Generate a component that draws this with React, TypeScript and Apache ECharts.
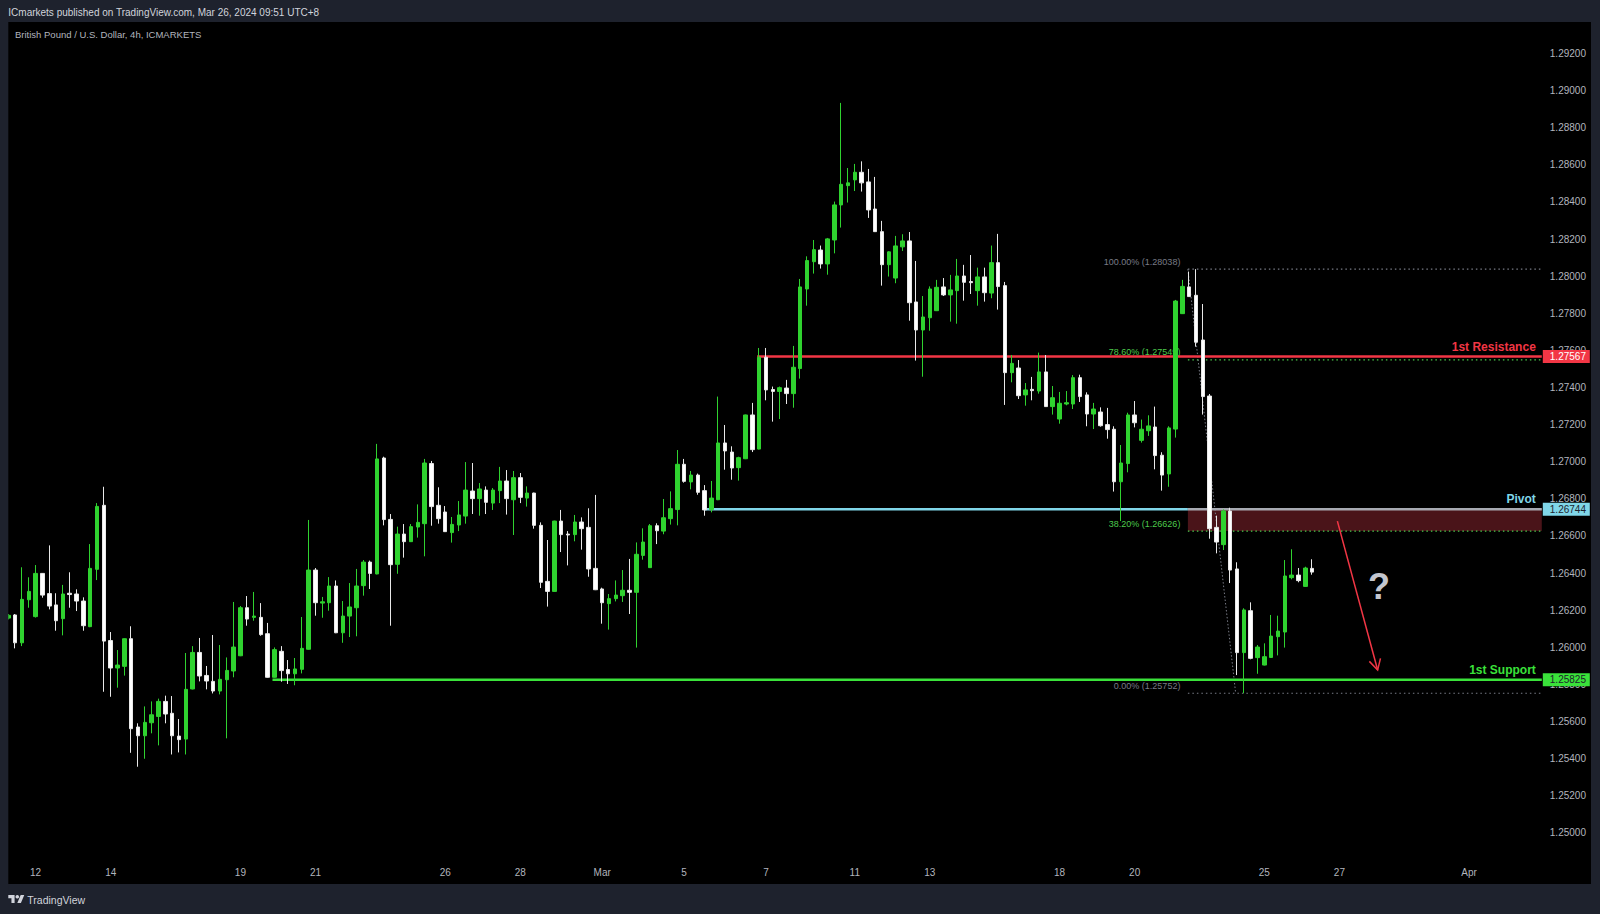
import React, { useEffect, useRef } from "react";
import * as echarts from "echarts";

// ---- candle data (GBP/USD 4h, ICMARKETS) ----
const opens = [
  1.26157,1.26174,1.26024,1.26256,1.26165,1.26398,1.26289,1.26228,1.26154,1.26291,
  1.26287,1.26249,1.26111,1.26420,1.26765,1.26036,1.25888,1.25897,1.26046,1.25570,
  1.25523,1.25593,1.25627,1.25708,1.25644,1.25521,1.25505,1.25775,1.25972,1.25848,
  1.25816,1.25764,1.25825,1.25872,1.25954,1.26213,1.26161,1.26161,1.26073,1.25838,
  1.25978,1.25880,1.25857,1.25881,1.25989,1.26416,1.26238,1.26240,1.26330,1.26078,
  1.26168,1.26213,1.26332,1.26459,1.26395,1.27020,1.26689,1.26447,1.26610,1.26569,
  1.26648,1.26666,1.26990,1.26765,1.26729,1.26618,1.26659,1.26707,1.26842,1.26801,
  1.26847,1.26777,1.26844,1.26896,1.26795,1.26914,1.26804,1.26831,1.26657,1.26355,
  1.26301,1.26680,1.26610,1.26607,1.26675,1.26646,1.26425,1.26314,1.26235,1.26262,
  1.26278,1.26307,1.26296,1.26495,1.26429,1.26655,1.26626,1.26693,1.26742,1.26986,
  1.26891,1.26928,1.26844,1.26742,1.26795,1.27101,1.27052,1.26968,1.27016,1.27252,
  1.27068,1.27563,1.27389,1.27379,1.27397,1.27367,1.27502,1.27931,1.28078,1.28141,
  1.28066,1.28195,1.28384,1.28488,1.28519,1.28560,1.28508,1.28362,1.28240,1.28062,
  1.27990,1.28158,1.28190,1.27861,1.27710,1.27776,1.27814,1.27942,1.27899,1.27922,
  1.28001,1.27971,1.27922,1.27996,1.27909,1.28073,1.27949,1.27480,1.27505,1.27360,
  1.27390,1.27381,1.27484,1.27297,1.27230,1.27311,1.27311,1.27453,1.27360,1.27257,
  1.27268,1.27200,1.27175,1.26892,1.26990,1.27252,1.27115,1.27167,1.27187,1.27035,
  1.26934,1.27176,1.27798,1.27942,1.27897,1.27656,1.27354,1.26646,1.26553,1.26734,
  1.26422,1.25971,1.26197,1.25944,1.25904,1.25945,1.26057,1.26082,1.26375,1.26389,
  1.26328,1.26425,
];
const highs = [
  1.26179,1.26179,1.26431,1.26377,1.26443,1.26400,1.26549,1.26291,1.26336,1.26404,
  1.26312,1.26269,1.26556,1.26777,1.26865,1.26082,1.25985,1.26048,1.26113,1.25590,
  1.25681,1.25708,1.25723,1.25739,1.25737,1.25613,1.25969,1.26006,1.26050,1.25899,
  1.26066,1.26012,1.25945,1.26244,1.26222,1.26276,1.26298,1.26238,1.26131,1.25999,
  1.26006,1.25931,1.25942,1.26163,1.26686,1.26427,1.26271,1.26378,1.26360,1.26249,
  1.26346,1.26422,1.26470,1.26467,1.27096,1.27027,1.26718,1.26650,1.26664,1.26664,
  1.26770,1.27015,1.27004,1.26862,1.26761,1.26702,1.26788,1.26998,1.26993,1.26885,
  1.26867,1.26858,1.26972,1.26955,1.26950,1.26939,1.26867,1.26833,1.26673,1.26578,
  1.26682,1.26740,1.26626,1.26713,1.26700,1.26749,1.26821,1.26321,1.26287,1.26360,
  1.26416,1.26476,1.26565,1.26641,1.26664,1.26668,1.26799,1.26840,1.27063,1.27015,
  1.26950,1.26936,1.26874,1.26896,1.27351,1.27198,1.27083,1.27027,1.27254,1.27317,
  1.27613,1.27613,1.27405,1.27405,1.27441,1.27624,1.27985,1.28107,1.28195,1.28165,
  1.28206,1.28402,1.28934,1.28583,1.28605,1.28619,1.28578,1.28535,1.28298,1.28134,
  1.28217,1.28226,1.28238,1.28082,1.27893,1.27945,1.27980,1.27990,1.28007,1.28093,
  1.28061,1.28114,1.28046,1.28046,1.28165,1.28228,1.27969,1.27575,1.27548,1.27424,
  1.27457,1.27588,1.27575,1.27408,1.27376,1.27381,1.27467,1.27469,1.27374,1.27317,
  1.27293,1.27290,1.27191,1.27090,1.27264,1.27327,1.27227,1.27250,1.27297,1.27051,
  1.27191,1.27872,1.27980,1.28025,1.28038,1.27850,1.27365,1.26709,1.26743,1.26752,
  1.26458,1.26210,1.26242,1.26012,1.26021,1.26174,1.26170,1.26470,1.26528,1.26427,
  1.26434,1.26474,
];
const lows = [
  1.26150,1.25994,1.26006,1.26213,1.26160,1.26267,1.26204,1.26089,1.26064,1.26213,
  1.26195,1.26089,1.26108,1.26362,1.25760,1.25733,1.25782,1.25847,1.25431,1.25356,
  1.25399,1.25536,1.25471,1.25590,1.25422,1.25433,1.25422,1.25773,1.25816,1.25773,
  1.25751,1.25746,1.25509,1.25838,1.25952,1.26116,1.26143,1.26062,1.25836,1.25836,
  1.25814,1.25802,1.25795,1.25859,1.25987,1.26170,1.26159,1.26197,1.26076,1.26024,
  1.26055,1.26059,1.26278,1.26314,1.26393,1.26657,1.26116,1.26396,1.26483,1.26567,
  1.26591,1.26490,1.26655,1.26666,1.26621,1.26564,1.26626,1.26666,1.26718,1.26709,
  1.26718,1.26740,1.26777,1.26715,1.26605,1.26777,1.26758,1.26639,1.26319,1.26219,
  1.26299,1.26513,1.26441,1.26571,1.26526,1.26380,1.26308,1.26127,1.26095,1.26247,
  1.26244,1.26179,1.25998,1.26472,1.26427,1.26556,1.26609,1.26661,1.26657,1.26887,
  1.26851,1.26822,1.26709,1.26727,1.26793,1.26957,1.26903,1.26898,1.27014,1.27052,
  1.27066,1.27331,1.27216,1.27230,1.27311,1.27291,1.27448,1.27841,1.28014,1.28041,
  1.28008,1.28123,1.28262,1.28397,1.28459,1.28456,1.28314,1.28238,1.27949,1.27998,
  1.27962,1.28136,1.27760,1.27545,1.27458,1.27706,1.27812,1.27893,1.27755,1.27744,
  1.27868,1.27904,1.27841,1.27863,1.27881,1.27820,1.27306,1.27428,1.27338,1.27302,
  1.27331,1.27367,1.27295,1.27254,1.27205,1.27304,1.27284,1.27322,1.27191,1.27176,
  1.27189,1.27124,1.26839,1.26680,1.26943,1.27185,1.27103,1.27139,1.26959,1.26844,
  1.26865,1.27130,1.27796,1.27888,1.27620,1.27254,1.26585,1.26506,1.26524,1.26346,
  1.25850,1.25752,1.25935,1.25857,1.25902,1.25943,1.25956,1.25998,1.26366,1.26350,
  1.26326,1.26391,
];
const closes = [
  1.26172,1.26024,1.26258,1.26301,1.26398,1.26281,1.26222,1.26143,1.26287,1.26284,
  1.26249,1.26116,1.26425,1.26759,1.26033,1.25888,1.25904,1.26046,1.25561,1.25523,
  1.25595,1.25636,1.25708,1.25640,1.25523,1.25502,1.25773,1.25972,1.25845,1.25818,
  1.25764,1.25827,1.25875,1.26001,1.26213,1.26152,1.26168,1.26068,1.25838,1.25987,
  1.25874,1.25857,1.25883,1.25994,1.26416,1.26240,1.26245,1.26330,1.26078,1.26168,
  1.26217,1.26330,1.26459,1.26398,1.27015,1.26688,1.26445,1.26610,1.26569,1.26650,
  1.26673,1.26993,1.26758,1.26693,1.26623,1.26662,1.26713,1.26847,1.26801,1.26853,
  1.26781,1.26847,1.26896,1.26801,1.26914,1.26808,1.26831,1.26657,1.26350,1.26301,
  1.26680,1.26607,1.26605,1.26675,1.26639,1.26422,1.26310,1.26240,1.26262,1.26281,
  1.26307,1.26296,1.26501,1.26567,1.26655,1.26628,1.26698,1.26747,1.26986,1.26894,
  1.26928,1.26835,1.26740,1.26804,1.27101,1.27058,1.26966,1.27022,1.27252,1.27065,
  1.27563,1.27387,1.27379,1.27399,1.27367,1.27509,1.27942,1.28084,1.28143,1.28066,
  1.28201,1.28384,1.28495,1.28503,1.28560,1.28503,1.28357,1.28240,1.28062,1.28131,
  1.28163,1.28190,1.27857,1.27710,1.27780,1.27931,1.27940,1.27899,1.27926,1.28001,
  1.27967,1.27965,1.27996,1.27911,1.28073,1.27944,1.27480,1.27530,1.27356,1.27387,
  1.27383,1.27484,1.27297,1.27345,1.27315,1.27318,1.27453,1.27351,1.27257,1.27284,
  1.27194,1.27173,1.26892,1.26993,1.27252,1.27210,1.27175,1.27193,1.27033,1.26928,
  1.27182,1.27866,1.27945,1.27890,1.27644,1.27351,1.26639,1.26567,1.26734,1.26416,
  1.25971,1.26201,1.25940,1.26001,1.25949,1.26060,1.26087,1.26384,1.26389,1.26359,
  1.26427,1.26405,
];

// ---- axes ----
const SLOT_COUNT = 225; // bars + empty future space
const dayTicks: [number, string][] = [
  [4, "12"], [15, "14"], [34, "19"], [45, "21"], [64, "26"], [75, "28"],
  [87, "Mar"], [99, "5"], [111, "7"], [124, "11"], [135, "13"], [154, "18"],
  [165, "20"], [184, "25"], [195, "27"], [214, "Apr"],
];
const priceTicks = [
  1.25, 1.252, 1.254, 1.256, 1.258, 1.26, 1.262, 1.264, 1.266, 1.268, 1.27,
  1.272, 1.274, 1.276, 1.278, 1.28, 1.282, 1.284, 1.286, 1.288, 1.29, 1.292,
];
const priceMin = 1.24864;
const priceMax = 1.2937;

// ---- levels / drawings ----
const resistance = 1.27567;
const pivot = 1.26744;
const support = 1.25825;
const zoneBottom = 1.26626;
const fibLevels: { label: string; price: number; green: boolean }[] = [
  { label: "100.00% (1.28038)", price: 1.28038, green: false },
  { label: "78.60% (1.27549)", price: 1.27549, green: true },
  { label: "38.20% (1.26626)", price: 1.26626, green: true },
  { label: "0.00% (1.25752)", price: 1.25752, green: false },
];
const fibStartBar = 172.8;
const fibTrend: [number, number][] = [[172.8, 1.28038], [179.8, 1.25752]];
const resistanceStartBar = 109.7;
const pivotStartBar = 101.9;
const supportStartBar = 38.7;
const arrowPath: [number, number][] = [[194.7, 1.2668], [200.6, 1.25877]];
const questionAt: [number, number] = [200.8, 1.26325];

const PAGE_BG = "#1e222d";
const GREEN = "#2fd22f";
const FONT = '"Liberation Sans", Arial, sans-serif';

echarts.graphic.registerShape(
  "tvlogo",
  echarts.graphic.extendPath("M14 22H7V11H0V4h14v18zM28 22h-8l7.5-18h8L28 22z", {})
);

export default function App() {
  const ref = useRef<HTMLDivElement>(null);

  useEffect(() => {
    const el = ref.current!;
    const chart = echarts.init(el, null, { renderer: "svg" });
    const categories = Array.from({ length: SLOT_COUNT }, (_, i) => String(i));
    const tickMap = new Map<number, string>(dayTicks);
    const candles = opens.map((o, i) => [o, closes[i], lows[i], highs[i]]);

    chart.setOption({
      animation: false,
      backgroundColor: "transparent",
      grid: { left: 4.9, top: 22, width: 1535.9, height: 836, containLabel: false },
      xAxis: {
        type: "category",
        data: categories,
        boundaryGap: true,
        axisLine: { show: false },
        axisTick: { show: false },
        splitLine: { show: false },
        axisLabel: {
          interval: (i: number) => tickMap.has(i),
          formatter: (_v: string, i: number) => tickMap.get(i) ?? "",
          color: "#b2b5be",
          fontSize: 10,
          fontFamily: FONT,
          margin: 9,
        },
      },
      yAxis: {
        type: "value",
        position: "right",
        min: priceMin,
        max: priceMax,
        scale: true,
        splitLine: { show: false },
        axisLine: { show: false },
        axisTick: { show: false },
        axisLabel: {
          customValues: priceTicks,
          formatter: (v: number) => v.toFixed(5),
          color: "#b2b5be",
          fontSize: 10,
          fontFamily: FONT,
          margin: 9,
          align: "left",
        },
      },
      series: [
        {
          type: "candlestick",
          data: candles,
          barWidth: 4,
          z: 5,
          itemStyle: {
            color: GREEN,
            borderColor: GREEN,
            color0: "#ffffff",
            borderColor0: "#e8e8e8",
            borderWidth: 1,
          },
        },
      ],
    });

    const x0 = chart.convertToPixel({ xAxisIndex: 0 }, 0) as number;
    const x1 = chart.convertToPixel({ xAxisIndex: 0 }, 1) as number;
    const bw = x1 - x0;
    const px = (i: number) => x0 + i * bw;
    const py = (p: number) => chart.convertToPixel({ yAxisIndex: 0 }, p) as number;
    const plotRight = px(SLOT_COUNT - 1) + bw / 2 + 1;
    const fibX = px(fibStartBar);

    const txt = (
      text: string, x: number, y: number, fill: string, size: number,
      align: string, vAlign: string, weight = "normal", z = 20
    ) => ({
      type: "text", x, y, z, silent: true,
      style: {
        text, fill, fontSize: size, fontWeight: weight, fontFamily: FONT,
        align, textAlign: align, verticalAlign: vAlign, textVerticalAlign: vAlign,
      },
    });
    const hline = (xa: number, xb: number, y: number, stroke: string, w: number, dash?: number[], z = 1) => ({
      type: "line", z, silent: true,
      shape: { x1: xa, y1: y, x2: xb, y2: y },
      style: { stroke, lineWidth: w, lineDash: dash },
    });

    const els: any[] = [];
    // left strip of the page frame
    els.push({ type: "rect", z: 100, silent: true, shape: { x: 0, y: 20, width: 8.3, height: 870 }, style: { fill: PAGE_BG } });

    // header
    els.push(txt("ICmarkets published on TradingView.com, Mar 26, 2024 09:51 UTC+8", 8.3, 12.5, "#d1d4dc", 10, "left", "middle"));
    els.push(txt("British Pound / U.S. Dollar, 4h, ICMARKETS", 15, 34.5, "#b2b5be", 9.5, "left", "middle"));

    // footer logo
    els.push({ type: "tvlogo", x: 8.3, y: 893.2, scaleX: 0.45, scaleY: 0.45, z: 20, style: { fill: "#d1d4dc" } });
    els.push({ type: "circle", z: 20, shape: { cx: 8.3 + 20 * 0.45, cy: 893.2 + 8 * 0.45, r: 4 * 0.45 }, style: { fill: "#d1d4dc" } });
    els.push(txt("TradingView", 27.3, 899.5, "#d1d4dc", 10.5, "left", "middle"));

    // fib zone rectangle
    const yPivot = py(pivot);
    const yZoneB = py(zoneBottom);
    els.push({ type: "rect", z: 0, silent: true, shape: { x: fibX, y: yPivot, width: plotRight - fibX, height: yZoneB - yPivot }, style: { fill: "#4a1419" } });

    // fib levels
    fibLevels.forEach((f) => {
      const y = py(f.price);
      const c = f.green ? "#4cc94c" : "#787b86";
      els.push(hline(fibX, plotRight, y, c, 1.2, [1.5, 3]));
      els.push(txt(f.label, fibX - 7.5, y - 3, c, 9, "right", "bottom", "normal", 1));
    });
    // fib trend line
    els.push({
      type: "line", z: 1, silent: true,
      shape: { x1: px(fibTrend[0][0]), y1: py(fibTrend[0][1]), x2: px(fibTrend[1][0]), y2: py(fibTrend[1][1]) },
      style: { stroke: "#787b86", lineWidth: 1, lineDash: [1.5, 2] },
    });

    // horizontal levels
    const yRes = py(resistance);
    const ySup = py(support);
    els.push(hline(px(resistanceStartBar), plotRight, yRes, "#f23645", 2.5));
    els.push(hline(px(pivotStartBar), fibX, yPivot, "#80d6e8", 2.5));
    els.push(hline(fibX, plotRight, yPivot, "#a7aab2", 2.5));
    els.push(hline(px(supportStartBar), plotRight, ySup, "#3ae23a", 2.5));

    els.push(txt("1st Resistance", plotRight - 6, yRes - 4, "#f23645", 12, "right", "bottom", "bold"));
    els.push(txt("Pivot", plotRight - 6, yPivot - 4, "#80d6e8", 12, "right", "bottom", "bold"));
    els.push(txt("1st Support", plotRight - 6, ySup - 4, "#3ae23a", 12, "right", "bottom", "bold"));

    // price tags on the axis
    const tag = (y: number, price: number, bg: string, fg: string) => {
      els.push({ type: "rect", z: 30, silent: true, shape: { x: plotRight + 1, y: y - 6.5, width: 47, height: 13 }, style: { fill: bg } });
      els.push(txt(price.toFixed(5), plotRight + 8, y, fg, 10, "left", "middle", "normal", 31));
    };
    tag(yRes, resistance, "#f23645", "#ffffff");
    tag(yPivot, pivot, "#80d6e8", "#1e222d");
    tag(ySup, support, "#3ae23a", "#1e222d");

    // red arrow
    const ax1 = px(arrowPath[0][0]), ay1 = py(arrowPath[0][1]);
    const ax2 = px(arrowPath[1][0]), ay2 = py(arrowPath[1][1]);
    const ang = Math.atan2(ay2 - ay1, ax2 - ax1);
    const hl = 12;
    const h1 = [ax2 - hl * Math.cos(ang - 0.5), ay2 - hl * Math.sin(ang - 0.5)];
    const h2 = [ax2 - hl * Math.cos(ang + 0.5), ay2 - hl * Math.sin(ang + 0.5)];
    els.push({ type: "line", z: 6, shape: { x1: ax1, y1: ay1, x2: ax2, y2: ay2 }, style: { stroke: "#f23645", lineWidth: 1.5 } });
    els.push({ type: "polyline", z: 6, shape: { points: [h1, [ax2, ay2], h2] }, style: { stroke: "#f23645", lineWidth: 1.5, fill: "none" } });

    // question mark
    els.push(txt("?", px(questionAt[0]), py(questionAt[1]), "#c3c6ce", 36, "center", "middle", "bold"));

    chart.setOption({ graphic: els });

    return () => chart.dispose();
  }, []);

  return (
    <div style={{ position: "fixed", left: 0, top: 0, width: 1600, height: 914, background: PAGE_BG, overflow: "hidden" }}>
      <div style={{ position: "absolute", left: 8.3, top: 22, width: 1582.7, height: 862.3, background: "#000000" }} />
      <div ref={ref} style={{ position: "absolute", left: 0, top: 0, width: 1600, height: 914 }} />
    </div>
  );
}
